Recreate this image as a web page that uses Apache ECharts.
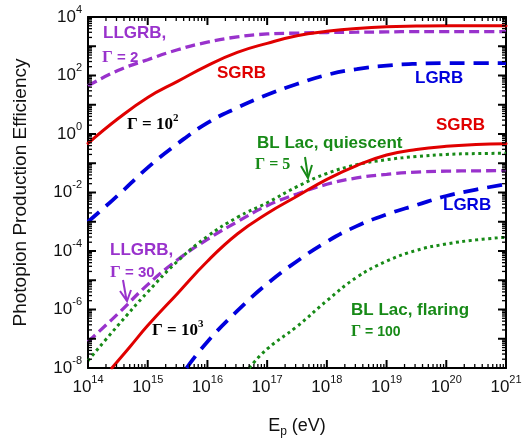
<!DOCTYPE html>
<html><head><meta charset="utf-8">
<script src="https://cdn.jsdelivr.net/npm/echarts@6/dist/echarts.min.js"></script>
<style>html,body{margin:0;padding:0;background:#fff}#c{width:526px;height:447px}</style>
</head><body><div id="c"></div>
<script>
// ---- data ----
const energyGrid = [1e14, 3.16e14, 1e15, 3.16e15, 1e16, 3.16e16, 1e17, 3.16e17, 1e18, 3.16e18, 1e19, 3.16e19, 1e20, 3.16e20, 1e21];
const sgrbGamma100 = [0.479, 3.31, 17.8, 63.1, 219, 617, 1259, 2291, 3236, 4074, 4677, 4898, 5012, 5012, 5012];
const llgrbGamma2 = [44.7, 148, 347, 759, 1380, 2089, 2630, 2818, 2951, 3020, 3090, 3162, 3162, 3162, 3162];
const lgrbGamma100 = [1.0e-3, 7.94e-3, 7.08e-2, 0.468, 2.40, 7.94, 21.9, 51.3, 105, 166, 219, 251, 263, 263, 263];
const blLacQuiescent = [1.78e-8, 2.82e-7, 3.98e-6, 4.47e-5, 3.16e-4, 1.41e-3, 4.47e-3, 1.58e-2, 4.47e-2, 8.91e-2, 0.132, 0.170, 0.200, 0.214, 0.219];
const llgrbGamma30 = [7.94e-8, 7.08e-7, 7.08e-6, 5.01e-5, 2.51e-4, 1e-3, 3.55e-3, 8.91e-3, 1.91e-2, 3.16e-2, 4.17e-2, 5.01e-2, 5.37e-2, 5.50e-2, 5.62e-2];
const sgrbGamma1000E = [2.51e14, 5.01e14, 1e15, 3.16e15, 1e16, 3.16e16, 1e17, 3.16e17, 1e18, 3.16e18, 1e19, 3.16e19, 1e20, 3.16e20, 1e21];
const sgrbGamma1000 = [1e-8, 5.25e-8, 2.82e-7, 3.55e-6, 4.47e-5, 3.80e-4, 1.91e-3, 7.41e-3, 2.82e-2, 8.32e-2, 0.191, 0.295, 0.380, 0.437, 0.468];
const lgrbGamma1000E = [4.47e15, 1e16, 3.16e16, 1e17, 3.16e17, 1e18, 3.16e18, 1e19, 3.16e19, 1e20, 3.16e20, 1e21];
const lgrbGamma1000 = [1e-8, 7.94e-8, 8.91e-7, 7.59e-6, 4.47e-5, 2.09e-4, 7.08e-4, 1.78e-3, 3.72e-3, 7.59e-3, 1.26e-2, 1.91e-2];
const blLacFlaringE = [5.01e16, 1e17, 3.16e17, 1e18, 3.16e18, 1e19, 3.16e19, 1e20, 3.16e20, 1e21];
const blLacFlaring = [1e-8, 4.47e-8, 2.63e-7, 2.0e-6, 1.26e-5, 4.47e-5, 1.05e-4, 1.74e-4, 2.40e-4, 2.95e-4];
const xDecades = [14, 15, 16, 17, 18, 19, 20, 21];
const yDecades = [-8, -7, -6, -5, -4, -3, -2, -1, 0, 1, 2, 3, 4];
const minorMultipliers = [2, 3, 4, 5, 6, 7, 8, 9];

// ---- styling ----
const SANS = 'Liberation Sans, Arial, Helvetica, sans-serif';
const SERIF = 'Liberation Serif, Times New Roman, serif';
const RED = '#e00000', BLUE = '#0000dd', PURPLE = '#9932cc', GREEN = '#178a17';
const xMin = Math.pow(10, xDecades[0]), xMax = Math.pow(10, xDecades[xDecades.length - 1]);
const yMin = Math.pow(10, yDecades[0]), yMax = Math.pow(10, yDecades[yDecades.length - 1]);

function pairs(xs, ys) { return xs.map((x, i) => [x, ys[i]]); }
function expOf(v) { return Math.round(Math.log10(v)); }

const tickRich = {
  b: { fontSize: 17, fontFamily: SANS, color: '#111', lineHeight: 26 },
  s: { fontSize: 11, fontFamily: SANS, color: '#111', verticalAlign: 'top', lineHeight: 12 }
};

function lineSeries(name, data, color, width, dash, cap) {
  return {
    name, type: 'line', data, showSymbol: false, smooth: 0.45, silent: true,
    xAxisIndex: 0, yAxisIndex: 0, clip: true, z: 3,
    lineStyle: { color, width, type: dash, cap: cap || 'butt' }
  };
}

// tick marks drawn as thin rectangle symbols placed at tick values through the axes
const xMajorVals = xDecades.map(d => Math.pow(10, d));
const yMajorVals = yDecades.map(d => Math.pow(10, d));
const xMinorVals = [], yMinorVals = [];
xDecades.slice(0, -1).forEach(d => minorMultipliers.forEach(k => xMinorVals.push(k * Math.pow(10, d))));
yDecades.slice(0, -1).forEach(d => minorMultipliers.forEach(k => yMinorVals.push(k * Math.pow(10, d))));

function tickScatter(data, size, offset) {
  return {
    type: 'scatter', data, symbol: 'rect', symbolSize: size, symbolOffset: offset,
    itemStyle: { color: '#000', opacity: 1 }, silent: true, clip: false, z: 20,
    xAxisIndex: 0, yAxisIndex: 0, animation: false, emphasis: { disabled: true }
  };
}
const MAJ = 8, MIN = 4, MAJW = 2, MINW = 1.3;
const tickSeries = [
  tickScatter(xMajorVals.map(v => [v, yMin]), [MAJW, MAJ], [0, -MAJ / 2]),
  tickScatter(xMajorVals.map(v => [v, yMax]), [MAJW, MAJ], [0, MAJ / 2]),
  tickScatter(yMajorVals.map(v => [xMin, v]), [MAJ, MAJW], [MAJ / 2, 0]),
  tickScatter(yMajorVals.map(v => [xMax, v]), [MAJ, MAJW], [-MAJ / 2, 0]),
  tickScatter(xMinorVals.map(v => [v, yMin]), [MINW, MIN], [0, -MIN / 2]),
  tickScatter(xMinorVals.map(v => [v, yMax]), [MINW, MIN], [0, MIN / 2]),
  tickScatter(yMinorVals.map(v => [xMin, v]), [MIN, MINW], [MIN / 2, 0]),
  tickScatter(yMinorVals.map(v => [xMax, v]), [MIN, MINW], [-MIN / 2, 0])
];

const axisCommon = {
  type: 'log', logBase: 10,
  axisLine: { show: true, onZero: false, lineStyle: { color: '#000', width: 2 } },
  axisTick: { show: false },
  splitLine: { show: false }, minorTick: { show: false }, minorSplitLine: { show: false }
};

function label(x, y, text, rich) {
  return { type: 'text', x, y, silent: true, z: 100,
    style: { text, rich, align: 'left', verticalAlign: 'middle', textVerticalAlign: 'middle' } };
}
function bold(color, size) { return { fontFamily: SANS, fontWeight: 'bold', fontSize: size || 17, color, fill: color }; }
function serifB(color, size, lh) { return { fontFamily: SERIF, fontWeight: 'bold', fontSize: size || 17, color, fill: color, lineHeight: lh || undefined }; }
function supB(color, size) { return { fontFamily: SERIF, fontWeight: 'bold', fontSize: size || 11, color, fill: color, verticalAlign: 'top', lineHeight: 12 }; }

const annotations = [
  label(103, 33, '{a|LLGRB,}', { a: bold(PURPLE) }),
  label(102, 58, '{g|Γ}{t| = 2}', { g: serifB(PURPLE, 17), t: bold(PURPLE, 15) }),
  label(217, 73, '{a|SGRB}', { a: bold(RED) }),
  label(127, 125, '{g|Γ = 10}{s|2}', { g: serifB('#000', 17, 24), s: supB('#000', 11) }),
  label(415, 78, '{a|LGRB}', { a: bold(BLUE) }),
  label(436, 125, '{a|SGRB}', { a: bold(RED) }),
  label(257, 143, '{a|BL Lac, quiescent}', { a: bold(GREEN) }),
  label(255, 165, '{g|Γ = 5}', { g: serifB(GREEN, 16) }),
  label(443, 205, '{a|LGRB}', { a: bold(BLUE) }),
  label(110, 250, '{a|LLGRB,}', { a: bold(PURPLE) }),
  label(110, 273, '{g|Γ}{t| = 30}', { g: serifB(PURPLE, 17), t: bold(PURPLE, 15) }),
  label(152, 331, '{g|Γ = 10}{s|3}', { g: serifB('#000', 17, 24), s: supB('#000', 11) }),
  label(351, 310, '{a|BL Lac, flaring}', { a: bold(GREEN) }),
  label(351, 332, '{g|Γ}{t| = 100}', { g: serifB(GREEN, 16), t: bold(GREEN, 14) }),
  { type: 'polyline', silent: true, z: 100, shape: { points: [[305, 157], [308, 177]] }, style: { stroke: GREEN, lineWidth: 2, fill: null } },
  { type: 'polyline', silent: true, z: 100, shape: { points: [[301, 166], [308, 178], [312, 165]] }, style: { stroke: GREEN, lineWidth: 2, fill: null } },
  { type: 'polyline', silent: true, z: 100, shape: { points: [[123, 280], [126.5, 300]] }, style: { stroke: PURPLE, lineWidth: 2, fill: null } },
  { type: 'polyline', silent: true, z: 100, shape: { points: [[120, 291], [127, 301], [131, 290]] }, style: { stroke: PURPLE, lineWidth: 2, fill: null } }
];

const option = {
  backgroundColor: '#fff',
  animation: false,
  grid: { left: 88, top: 17, right: 20, bottom: 79, containLabel: false },
  xAxis: [
    Object.assign({}, axisCommon, {
      min: xMin, max: xMax, position: 'bottom', interval: 1,
      name: '{b|E}{sub|p}{b| (eV)}', nameLocation: 'middle', nameGap: 46,
      nameTextStyle: { rich: {
        b: { fontSize: 18, fontFamily: SANS, color: '#111', lineHeight: 24 },
        sub: { fontSize: 12, fontFamily: SANS, color: '#111', verticalAlign: 'bottom', lineHeight: 12 } } },
      axisLabel: { show: true, interval: 0, margin: 6, formatter: v => '{b|10}{s|' + expOf(v) + '}', rich: tickRich }
    }),
    Object.assign({}, axisCommon, { min: xMin, max: xMax, position: 'top', axisLabel: { show: false } })
  ],
  yAxis: [
    Object.assign({}, axisCommon, {
      min: yMin, max: yMax, position: 'left', interval: 1,
      name: 'Photopion Production Efficiency', nameLocation: 'middle', nameGap: 58, nameRotate: 90,
      nameTextStyle: { fontSize: 19, fontFamily: SANS, color: '#111' },
      axisLabel: { show: true, interval: 0, margin: 6, formatter: v => { const e = expOf(v); return e % 2 === 0 ? '{b|10}{s|' + e + '}' : ''; }, rich: tickRich }
    }),
    Object.assign({}, axisCommon, { min: yMin, max: yMax, position: 'right', axisLabel: { show: false } })
  ],
  series: [
    lineSeries('LLGRB Γ=2', pairs(energyGrid, llgrbGamma2), PURPLE, 3.3, [10, 5]),
    lineSeries('LGRB Γ=100', pairs(energyGrid, lgrbGamma100), BLUE, 3.8, [15, 9]),
    lineSeries('SGRB Γ=100', pairs(energyGrid, sgrbGamma100), RED, 3, 'solid', 'round'),
    lineSeries('LLGRB Γ=30', pairs(energyGrid, llgrbGamma30), PURPLE, 3.3, [10, 5]),
    lineSeries('BL Lac quiescent', pairs(energyGrid, blLacQuiescent), GREEN, 3, [3, 3.5]),
    lineSeries('SGRB Γ=1000', pairs(sgrbGamma1000E, sgrbGamma1000), RED, 3, 'solid', 'round'),
    lineSeries('LGRB Γ=1000', pairs(lgrbGamma1000E, lgrbGamma1000), BLUE, 3.8, [15, 9]),
    lineSeries('BL Lac flaring', pairs(blLacFlaringE, blLacFlaring), GREEN, 3, [3, 3.5])
  ].concat(tickSeries),
  graphic: { elements: annotations }
};
const chart = echarts.init(document.getElementById('c'), null, { renderer: 'canvas' });
chart.setOption(option);
</script></body></html>
